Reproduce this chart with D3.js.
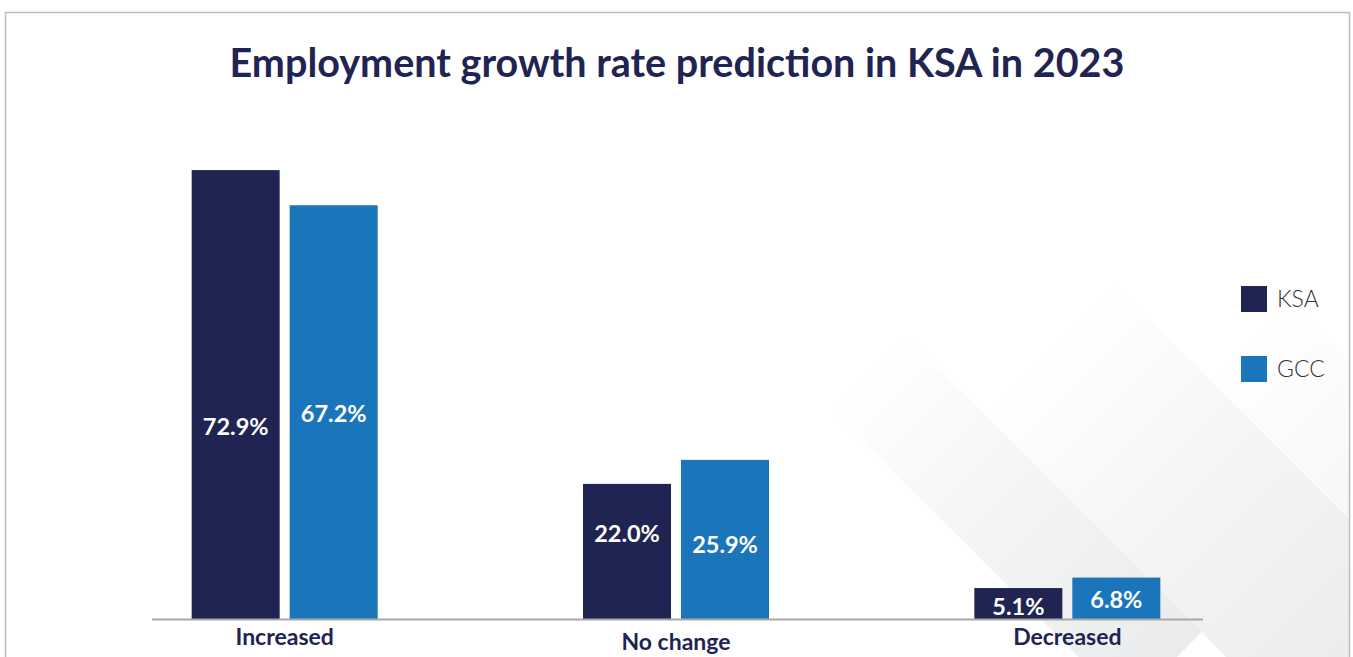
<!DOCTYPE html>
<html>
<head>
<meta charset="utf-8">
<script src="https://cdn.jsdelivr.net/npm/d3@7/dist/d3.min.js"></script>
<style>
  html, body { margin: 0; padding: 0; background: #ffffff; }
  svg { display: block; }
</style>
</head>
<body>
<svg id="chart" width="1353" height="657"></svg>
<script>
// Survey answers: share of respondents per expected employment change
const categories = ["Increased", "No change", "Decreased"];
const seriesNames = ["KSA", "GCC"];
const ksaValues = [72.9, 22.0, 5.1];
const gccValues = [67.2, 25.9, 6.8];
const titleText = "Employment growth rate prediction in KSA in 2023";

// Layout and styling
const W = 1353, H = 657;
const navy = "#1f2452", blue = "#1b75bb";
const colors = { KSA: navy, GCC: blue };
const baseY = 619.5, topY = 169.5;
// Vertical nudges for the in-bar value labels (px, relative to bar centre)
const labelNudge = { KSA: [32, -18, 3], GCC: [2, 5, 1] };

const svg = d3.select("#chart");
const defs = svg.append("defs");

// Frame clip
defs.append("clipPath").attr("id", "frameClip")
  .append("rect").attr("x", 5).attr("y", 12).attr("width", 1345).attr("height", H);

// Soft diagonal bands decorating the lower right of the frame:
// each band fades in from its upper-left end
const grad = defs.append("linearGradient").attr("id", "bandGrad")
  .attr("x1", "0").attr("y1", "0").attr("x2", "0").attr("y2", "1");
grad.append("stop").attr("offset", "0%").attr("stop-color", "#e3e5e6").attr("stop-opacity", 0);
grad.append("stop").attr("offset", "45%").attr("stop-color", "#e3e5e6").attr("stop-opacity", 0.4);
grad.append("stop").attr("offset", "100%").attr("stop-color", "#e3e5e6").attr("stop-opacity", 0.75);

const deco = svg.append("g").attr("clip-path", "url(#frameClip)");
const bands = [
  { sx: 868, sy: 372, w: 105, len: 420, op: 1 },
  { sx: 1050, sy: 350, w: 185, len: 460, op: 1 },
  { sx: 1250, sy: 340, w: 110, len: 420, op: 0.75 }
];
deco.selectAll("rect.band").data(bands).join("rect")
  .attr("class", "band")
  .attr("x", d => -d.w / 2).attr("y", 0)
  .attr("width", d => d.w).attr("height", d => d.len)
  .attr("transform", d => `translate(${d.sx},${d.sy}) rotate(-45)`)
  .attr("fill", "url(#bandGrad)")
  .attr("opacity", d => d.op);

// Frame border
svg.append("rect")
  .attr("x", 5.5).attr("y", 12.5).attr("width", 1344).attr("height", H)
  .attr("fill", "none").attr("stroke", "#bdbdbd").attr("stroke-width", 1.5);

// Title
const title = svg.append("text")
  .attr("x", 677).attr("y", 77)
  .attr("text-anchor", "middle")
  .attr("fill", navy)
  .style("font-family", "Lato, 'Open Sans', sans-serif")
  .style("font-weight", 700)
  .style("font-size", "37px")
  .text(titleText);
const tw = title.node().getComputedTextLength();
title.style("font-size", (37 * 895 / tw).toFixed(2) + "px");

// Scales
const x0 = d3.scaleBand().domain(categories).range([89, 1263]);
const x1 = d3.scaleBand().domain(seriesNames).range([-93, 93]).paddingInner(0.102);
const y = d3.scaleLinear().domain([0, 73]).range([baseY, topY]);

const rows = categories.map((c, i) => ({
  category: c,
  values: [
    { series: "KSA", value: ksaValues[i], idx: i },
    { series: "GCC", value: gccValues[i], idx: i }
  ]
}));

const groups = svg.append("g").selectAll("g.group").data(rows).join("g")
  .attr("class", "group")
  .attr("transform", d => `translate(${x0(d.category) + x0.bandwidth() / 2},0)`);

groups.selectAll("rect").data(d => d.values).join("rect")
  .attr("x", d => x1(d.series))
  .attr("y", d => y(d.value))
  .attr("width", x1.bandwidth())
  .attr("height", d => y(0) - y(d.value))
  .attr("fill", d => colors[d.series]);

groups.selectAll("text.val").data(d => d.values).join("text")
  .attr("class", "val")
  .attr("x", d => x1(d.series) + x1.bandwidth() / 2)
  .attr("y", d => (y(d.value) + y(0)) / 2 + 8 + labelNudge[d.series][d.idx])
  .attr("text-anchor", "middle")
  .attr("fill", "#ffffff")
  .style("font-family", "Lato, 'Open Sans', sans-serif")
  .style("font-weight", 700)
  .style("font-size", "23.5px")
  .text(d => d.value.toFixed(1) + "%");

// Baseline (category axis)
const xAxis = d3.axisBottom(x0).tickSize(0).tickPadding(0);
const axisG = svg.append("g").attr("transform", `translate(0,${baseY})`).call(xAxis);
axisG.select(".domain").remove();
svg.append("line")
  .attr("x1", 152).attr("x2", 1203)
  .attr("y1", baseY).attr("y2", baseY)
  .attr("stroke", "#a8a8a8").attr("stroke-width", 2);
axisG.selectAll(".tick text")
  .attr("y", (d, i) => (i % 2 === 1 ? 30.5 : 25.5))
  .attr("dy", 0)
  .attr("fill", navy)
  .style("font-family", "Lato, 'Open Sans', sans-serif")
  .style("font-weight", 700)
  .style("font-size", "23px");

// Legend
const legend = svg.append("g").attr("transform", "translate(1241,286)");
const li = legend.selectAll("g").data(seriesNames).join("g")
  .attr("transform", (d, i) => `translate(0,${i * 70})`);
li.append("rect").attr("width", 26).attr("height", 26).attr("fill", d => colors[d]);
li.append("text")
  .attr("x", 36).attr("y", 21)
  .attr("fill", "#333333")
  .style("font-family", "Lato, 'Open Sans', sans-serif")
  .style("font-weight", 300)
  .style("font-size", "23px")
  .text(d => d);
</script>
</body>
</html>
